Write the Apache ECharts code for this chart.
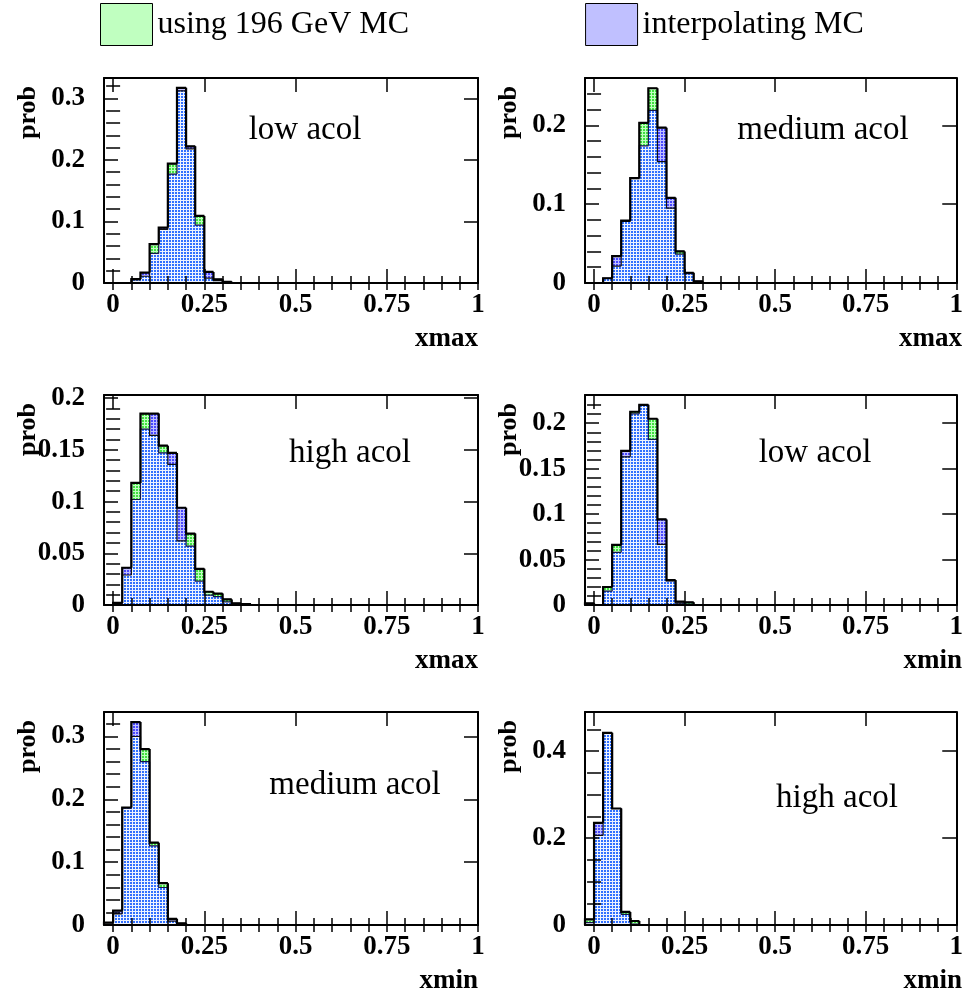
<!DOCTYPE html>
<html><head><meta charset="utf-8">
<script src="https://cdn.jsdelivr.net/npm/echarts@6/dist/echarts.min.js"></script>
<style>html,body{margin:0;padding:0;background:#fff}#c{width:966px;height:995px}</style>
</head><body><div id="c"></div>
<script>
// ---------- data ----------
const binLow = [-0.025,0,0.025,0.05,0.075,0.1,0.125,0.15,0.175,0.2,0.225,0.25,0.275,0.3,0.325,0.35];
const binWidth = 0.025;
const legendNames = ['using 196 GeV MC','interpolating MC'];

const lowAcolXmax196    = [0,0,0,0.005,0.011,0.063,0.087,0.194,0.312,0.218,0.109,0.008,0.004,0.002,0,0];
const lowAcolXmaxInterp = [0,0,0,0.0065,0.017,0.048,0.090,0.177,0.317,0.222,0.094,0.018,0.006,0.001,0,0];
const medAcolXmax196    = [0,0,0.006,0.0215,0.078,0.133,0.203,0.247,0.154,0.095,0.040,0.013,0.002,0,0,0];
const medAcolXmaxInterp = [0,0,0.006,0.034,0.079,0.133,0.174,0.219,0.197,0.108,0.0366,0.012,0.002,0,0,0];
const highAcolXmax196    = [0,0.002,0.029,0.118,0.185,0.164,0.154,0.136,0.062,0.069,0.035,0.0128,0.011,0.0054,0.0016,0.0008];
const highAcolXmaxInterp = [0,0.001,0.036,0.102,0.170,0.185,0.147,0.147,0.094,0.057,0.023,0.0096,0.008,0.003,0.0012,0.0004];
const lowAcolXmin196    = [0.0015,0,0.0198,0.0661,0.1630,0.2126,0.2195,0.2049,0.0667,0.0274,0.002,0.003,0,0,0,0];
const lowAcolXminInterp = [0.0019,0,0.0152,0.0579,0.1695,0.2103,0.2202,0.1821,0.0941,0.0265,0.0038,0.001,0,0,0,0];
const medAcolXmin196    = [0.003,0.0178,0.187,0.300,0.280,0.131,0.0666,0.0063,0.0026,0,0,0,0,0,0,0];
const medAcolXminInterp = [0.004,0.023,0.186,0.323,0.260,0.126,0.0597,0.0099,0.001,0,0,0,0,0,0,0];
const highAcolXmin196    = [0.013,0.206,0.442,0.268,0.030,0.0092,0,0,0,0,0,0,0,0,0,0];
const highAcolXminInterp = [0.0054,0.235,0.441,0.268,0.0245,0.002,0,0,0,0,0,0,0,0,0,0];

const panelTitles = ['low acol','medium acol','high acol','low acol','medium acol','high acol'];
const panelXNames = ['xmax','xmax','xmax','xmin','xmin','xmin'];
const yName = 'prob';

const xRange = [-0.025, 1];
const xMajorTicks = [0,0.25,0.5,0.75,1];
const xMinorTicks = [0,0.05,0.1,0.15,0.2,0.25,0.3,0.35,0.4,0.45,0.5,0.55,0.6,0.65,0.7,0.75,0.8,0.85,0.9,0.95,1];
const yMaxes = [0.333,0.26,0.203,0.231,0.339,0.49];
const yMajorTicks = [
  [0,0.1,0.2,0.3],[0,0.1,0.2],[0,0.05,0.1,0.15,0.2],[0,0.05,0.1,0.15,0.2],[0,0.1,0.2,0.3],[0,0.2,0.4]
];
const yMinorTicks = [
  [0.02,0.04,0.06,0.08,0.12,0.14,0.16,0.18,0.22,0.24,0.26,0.28,0.32],
  [0.02,0.04,0.06,0.08,0.12,0.14,0.16,0.18,0.22,0.24],
  [0.01,0.02,0.03,0.04,0.06,0.07,0.08,0.09,0.11,0.12,0.13,0.14,0.16,0.17,0.18,0.19],
  [0.01,0.02,0.03,0.04,0.06,0.07,0.08,0.09,0.11,0.12,0.13,0.14,0.16,0.17,0.18,0.19,0.21,0.22],
  [0.02,0.04,0.06,0.08,0.12,0.14,0.16,0.18,0.22,0.24,0.26,0.28,0.32],
  [0.05,0.1,0.15,0.25,0.3,0.35,0.45]
];

const panels = [
  [lowAcolXmax196, lowAcolXmaxInterp],
  [medAcolXmax196, medAcolXmaxInterp],
  [highAcolXmax196, highAcolXmaxInterp],
  [lowAcolXmin196, lowAcolXminInterp],
  [medAcolXmin196, medAcolXminInterp],
  [highAcolXmin196, highAcolXminInterp]
];

// ---------- layout / style ----------
const grids = [
  {left:104, top:78,  width:374, height:205},
  {left:585, top:78,  width:377, height:205},
  {left:104, top:395, width:374, height:210},
  {left:585, top:395, width:377, height:210},
  {left:104, top:712, width:374, height:213},
  {left:585, top:712, width:377, height:213}
];
const titlePos = [[305,130],[823,130],[350,453],[815,453],[355,785],[837,798]];
const SERIF = '"Liberation Serif","DejaVu Serif",serif';
const TICK_FONT = 27;

function makePattern(bg, dot) {
  const c = document.createElement('canvas');
  c.width = 3; c.height = 3;
  const g = c.getContext('2d');
  g.fillStyle = bg; g.fillRect(0,0,3,3);
  g.fillStyle = dot; g.fillRect(1,0,2,2);
  return {image: c, repeat: 'repeat'};
}
const greenPat = makePattern('#c0ffc0', '#40e040');
const bluePat = makePattern('#c0c0ff', '#4848ff');
const overlapPat = makePattern('#eef3ff', '#3070ff');

function rectFor(api, xl, h) {
  const a = api.coord([xl, 0]), b = api.coord([xl + binWidth, h]);
  return {x: a[0], y: b[1], width: b[0] - a[0], height: a[1] - b[1]};
}

function outlineSeries(name, vals, xi, yi, width, color, z) {
  return {
    type: 'custom', name: name, xAxisIndex: xi, yAxisIndex: yi, z: z, silent: true, animation: false,
    data: binLow.map((x, k) => [x, vals[k]]),
    renderItem: function (params, api) {
      const k = params.dataIndex;
      const xl = api.value(0), h = api.value(1);
      const prev = k > 0 ? vals[k - 1] : 0;
      const last = k === vals.length - 1;
      if (!(h > 0) && !(prev > 0)) return null;
      const pts = [api.coord([xl, prev]), api.coord([xl, h]), api.coord([xl + binWidth, h])];
      if (last) pts.push(api.coord([xl + binWidth, 0]));
      return {type: 'polyline', shape: {points: pts}, style: {stroke: color, lineWidth: width, fill: null}};
    }
  };
}

const xAxes = [], yAxes = [], series = [], graphics = [];
const tickLine = {color: '#000', width: 1.5};

grids.forEach((gr, i) => {
  const base = i * 4;
  const common = {gridIndex: i, type: 'value', min: xRange[0], max: xRange[1], splitLine: {show: false}, z: 10};
  xAxes.push(Object.assign({}, common, {
    position: 'bottom',
    axisLine: {show: true, onZero: false, lineStyle: {color: '#000', width: 2}},
    axisTick: {show: true, inside: true, length: 14, customValues: xMajorTicks, lineStyle: tickLine},
    axisLabel: {show: true, customValues: xMajorTicks, margin: 9, color: '#000', fontFamily: SERIF,
      fontWeight: 'bold', fontSize: TICK_FONT, formatter: v => String(v)}
  }));
  xAxes.push(Object.assign({}, common, {
    position: 'bottom', axisLine: {show: false},
    axisTick: {show: true, inside: true, length: 7, customValues: xMinorTicks, lineStyle: tickLine},
    axisLabel: {show: false}
  }));
  xAxes.push(Object.assign({}, common, {
    position: 'top',
    axisLine: {show: true, onZero: false, lineStyle: {color: '#000', width: 2}},
    axisTick: {show: true, inside: true, length: 14, customValues: xMajorTicks, lineStyle: tickLine},
    axisLabel: {show: false}
  }));
  xAxes.push(Object.assign({}, common, {
    position: 'top', axisLine: {show: false},
    axisTick: {show: true, inside: true, length: 7, customValues: xMinorTicks, lineStyle: tickLine},
    axisLabel: {show: false}
  }));

  const yc = {gridIndex: i, type: 'value', min: 0, max: yMaxes[i], splitLine: {show: false}, z: 10};
  yAxes.push(Object.assign({}, yc, {
    position: 'left',
    axisLine: {show: true, onZero: false, lineStyle: {color: '#000', width: 2}},
    axisTick: {show: true, inside: true, length: 14, customValues: yMajorTicks[i], lineStyle: tickLine},
    axisLabel: {show: true, customValues: yMajorTicks[i], margin: 19, color: '#000', fontFamily: SERIF,
      fontWeight: 'bold', fontSize: TICK_FONT, formatter: v => String(v)}
  }));
  yAxes.push(Object.assign({}, yc, {
    position: 'left', axisLine: {show: false},
    axisTick: {show: true, inside: true, length: 7, customValues: yMinorTicks[i], lineStyle: tickLine},
    axisLabel: {show: false}
  }));
  yAxes.push(Object.assign({}, yc, {
    position: 'right',
    axisLine: {show: true, onZero: false, lineStyle: {color: '#000', width: 2}},
    axisTick: {show: true, inside: true, length: 14, customValues: yMajorTicks[i], lineStyle: tickLine},
    axisLabel: {show: false}
  }));
  yAxes.push(Object.assign({}, yc, {
    position: 'right', axisLine: {show: false},
    axisTick: {show: true, inside: true, length: 7, customValues: yMinorTicks[i], lineStyle: tickLine},
    axisLabel: {show: false}
  }));

  const g = panels[i][0], b = panels[i][1];
  const rows = binLow.map((x, k) => [x, g[k], b[k]]);
  series.push({
    type: 'custom', name: legendNames[0], xAxisIndex: base, yAxisIndex: base, z: 2, silent: true, animation: false,
    data: rows,
    renderItem: function (params, api) {
      const h = api.value(1);
      if (!(h > 0)) return null;
      return {type: 'rect', shape: rectFor(api, api.value(0), h), style: {fill: greenPat}};
    }
  });
  series.push({
    type: 'custom', name: legendNames[1], xAxisIndex: base, yAxisIndex: base, z: 3, silent: true, animation: false,
    data: rows,
    renderItem: function (params, api) {
      const xl = api.value(0), hg = api.value(1), hb = api.value(2);
      if (!(hb > 0)) return null;
      const children = [{type: 'rect', shape: rectFor(api, xl, hb), style: {fill: bluePat}}];
      const m = Math.min(hg, hb);
      if (m > 0) children.push({type: 'rect', shape: rectFor(api, xl, m), style: {fill: overlapPat}});
      return {type: 'group', children: children};
    }
  });
  series.push(outlineSeries(legendNames[0], g, base, base, 1.2, '#111', 4));
  series.push(outlineSeries(legendNames[1], b, base, base, 1.2, '#15154a', 4));
  const env = g.map((v, k) => Math.max(v, b[k]));
  series.push(outlineSeries('envelope', env, base, base, 2.2, '#000', 5));

  graphics.push({type: 'text', x: titlePos[i][0], y: titlePos[i][1], silent: true,
    style: {text: panelTitles[i], font: '33px ' + SERIF, fill: '#000', textAlign: 'center', textVerticalAlign: 'middle'}});
  graphics.push({type: 'text', x: gr.left + gr.width, y: gr.top + gr.height + 56, silent: true,
    style: {text: panelXNames[i], font: 'bold 27px ' + SERIF, fill: '#000', textAlign: 'right', textVerticalAlign: 'middle'}});
  graphics.push({type: 'text', x: gr.left - 76, y: gr.top + 8, rotation: Math.PI / 2, silent: true,
    style: {text: yName, font: 'bold 26px ' + SERIF, fill: '#000', textAlign: 'right', textVerticalAlign: 'middle'}});
});

const chart = echarts.init(document.getElementById('c'), null, {renderer: 'canvas'});
chart.setOption({
  animation: false,
  backgroundColor: '#fff',
  grid: grids.map(g => Object.assign({containLabel: false}, g)),
  xAxis: xAxes,
  yAxis: yAxes,
  legend: {
    left: 100, top: 3, padding: 0, itemWidth: 52, itemHeight: 42, itemGap: 176, selectedMode: false,
    textStyle: {fontFamily: SERIF, fontSize: 32, color: '#000'},
    data: [
      {name: legendNames[0], icon: 'rect', itemStyle: {color: '#c0ffc0', borderColor: '#000', borderWidth: 1}},
      {name: legendNames[1], icon: 'rect', itemStyle: {color: '#c0c0ff', borderColor: '#000', borderWidth: 1}}
    ]
  },
  series: series,
  graphic: graphics
});
</script></body></html>
